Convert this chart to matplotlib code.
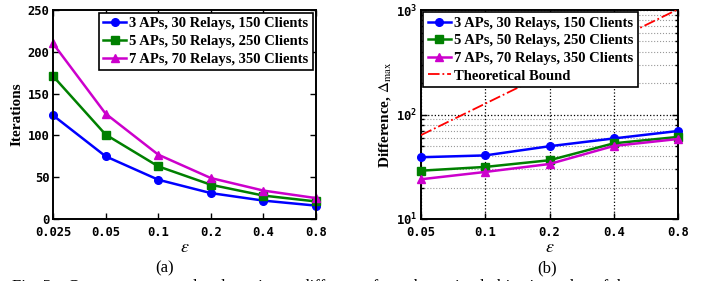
import matplotlib.pyplot as plt
from matplotlib.ticker import FixedLocator, NullFormatter, LogLocator

# eps values and series
eps_a = [0.025, 0.05, 0.1, 0.2, 0.4, 0.8]
eps_a_labels = ['0.025', '0.05', '0.1', '0.2', '0.4', '0.8']
iter_3ap = [124, 75, 47, 31, 22, 16]
iter_5ap = [171, 101, 63, 41, 28, 21]
iter_7ap = [210, 126, 77, 49, 34, 25]

eps_b = [0.05, 0.1, 0.2, 0.4, 0.8]
eps_b_labels = ['0.05', '0.1', '0.2', '0.4', '0.8']
diff_3ap = [39, 40.6, 49.7, 59, 69.5]
diff_5ap = [29, 31.5, 36.5, 53, 61]
diff_7ap = [24, 28.2, 33.6, 50, 58.3]
bound = [63.5, 127, 254, 508, 1016]

names = ['3 APs, 30 Relays, 150 Clients',
         '5 APs, 50 Relays, 250 Clients',
         '7 APs, 70 Relays, 350 Clients']
colors = ['#0000ff', '#008000', '#cc00cc']
markers = ['o', 's', '^']

plt.rcParams['mathtext.fontset'] = 'stix'
serif = 'Liberation Serif'
mono = 'DejaVu Sans Mono'

fig = plt.figure(figsize=(7.13, 2.81), dpi=100)
ax1 = fig.add_axes([53 / 713, 1 - 219 / 281, 263 / 713, 209 / 281])
ax2 = fig.add_axes([421 / 713, 1 - 219 / 281, 257 / 713, 209 / 281])


def style_axis(ax):
    for s in ax.spines.values():
        s.set_linewidth(1.4)
    ax.tick_params(which='both', direction='in', top=True, right=True,
                   width=1.0)
    ax.tick_params(which='major', length=4)
    ax.tick_params(axis='x', which='major', pad=5)
    ax.tick_params(axis='y', which='major', pad=2.5)
    ax.tick_params(which='minor', length=2.5)
    for lab in ax.get_xticklabels() + ax.get_yticklabels():
        lab.set_fontfamily(mono)
        lab.set_fontweight('bold')
        lab.set_fontsize(8.7)
    ax.set_xlabel(r'$\epsilon$', fontsize=13, labelpad=-1)


legend_kw = dict(prop={'family': serif, 'weight': 'bold', 'size': 10.5},
                 handlelength=1.6, handletextpad=0.2, borderpad=0.3, labelspacing=0.3,
                 fancybox=False, edgecolor='black', framealpha=1)

# (a) iterations
for ys, name, c, m in zip([iter_3ap, iter_5ap, iter_7ap], names, colors, markers):
    ax1.plot(eps_a, ys, color=c, marker=m, lw=1.8, ms=5.5, label=name, clip_on=False)
ax1.set_xscale('log', base=2)
ax1.set_xlim(0.025, 0.8)
ax1.xaxis.set_major_locator(FixedLocator(eps_a))
ax1.set_xticklabels(eps_a_labels)
ax1.xaxis.set_minor_formatter(NullFormatter())
ax1.xaxis.set_minor_locator(FixedLocator([]))
ax1.set_ylim(0, 250)
ax1.set_yticks([0, 50, 100, 150, 200, 250])
ax1.set_ylabel('Iterations', fontfamily=serif, fontweight='bold', fontsize=11, labelpad=3)
style_axis(ax1)
leg1 = ax1.legend(loc='upper right', borderaxespad=0.2, **legend_kw)
leg1.get_frame().set_linewidth(1.2)

# (b) difference
for ys, name, c, m in zip([diff_3ap, diff_5ap, diff_7ap], names, colors, markers):
    ax2.plot(eps_b, ys, color=c, marker=m, lw=1.8, ms=5.5, label=name, clip_on=False, zorder=3)
ax2.plot(eps_b, bound, color='#ff0000', ls='-.', lw=1.3, label='Theoretical Bound', zorder=3)
ax2.set_xscale('log', base=2)
ax2.set_yscale('log')
ax2.set_xlim(0.05, 0.8)
ax2.set_ylim(10, 1000)
ax2.xaxis.set_major_locator(FixedLocator(eps_b))
ax2.set_xticklabels(eps_b_labels)
ax2.xaxis.set_minor_locator(FixedLocator([]))
ax2.yaxis.set_major_locator(LogLocator(base=10, numticks=5))
ax2.yaxis.set_minor_locator(LogLocator(base=10, subs=range(2, 10), numticks=10))
ax2.yaxis.set_minor_formatter(NullFormatter())
ax2.grid(True, which='major', color='black', ls=':', lw=0.9)
ax2.grid(True, which='minor', axis='y', color='#999999', ls=':', lw=0.8)
ax2.set_ylabel(r'Difference, $\Delta_{\mathrm{max}}$', fontfamily=serif, fontweight='bold',
               fontsize=11, labelpad=2)
style_axis(ax2)
leg2 = ax2.legend(loc='upper left', borderaxespad=0.15, **legend_kw)
leg2.get_frame().set_linewidth(1.2)

# sub-captions and the clipped figure caption below
fig.text(165 / 713, 1 - 268 / 281, '(a)', fontfamily=serif, fontsize=12, ha='center', va='center')
fig.text(547 / 713, 1 - 268 / 281, '(b)', fontfamily=serif, fontsize=12, ha='center', va='center')
fig.text(12 / 713, 1 - 287 / 281,
         'Fig. 5.   Convergence speed and maximum difference from the optimal objective value of the',
         fontfamily=serif, fontsize=12, ha='left', va='center')

fig.savefig('out.png', dpi=100)
